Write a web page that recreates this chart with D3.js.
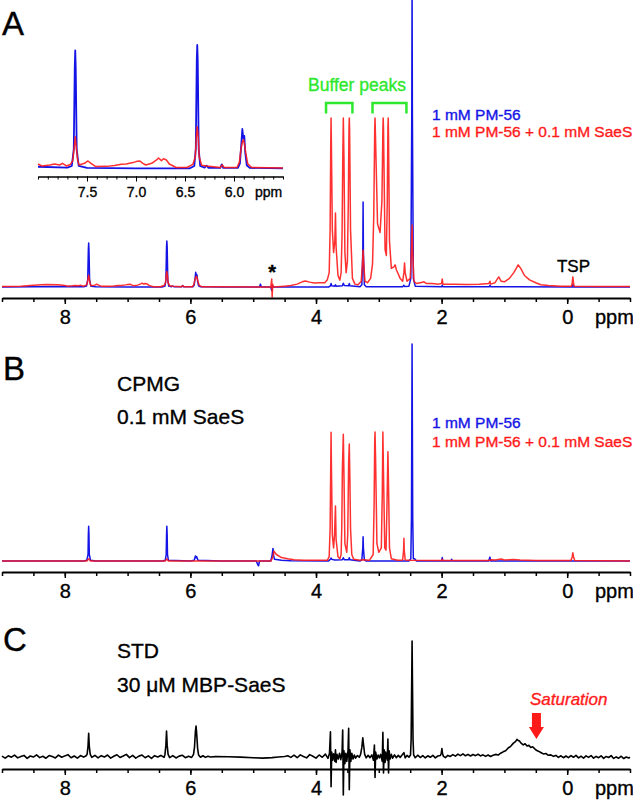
<!DOCTYPE html>
<html><head><meta charset="utf-8">
<script src="https://cdn.jsdelivr.net/npm/d3@7"></script>
<style>
html,body{margin:0;padding:0;background:#fff;}
svg{display:block;font-family:"Liberation Sans",Arial,Helvetica,sans-serif;}
text{paint-order:stroke;stroke-width:0.35px;}
</style></head><body>
<svg id="chart" width="633" height="802"></svg>
<script>
// ---------------- DATA (ppm, intensity) ----------------
const mainTicks = [9,8.5,8,7.5,7,6.5,6,5.5,5,4.5,4,3.5,3,2.5,2,1.5,1,0.5,0,-0.5,-1];
const mainTickLabels = [8,6,4,2,0];
const insetTicks = [8.0,7.9,7.8,7.7,7.6,7.5,7.4,7.3,7.2,7.1,7.0,6.9,6.8,6.7,6.6,6.5,6.4,6.3,6.2,6.1,6.0,5.9,5.8,5.7,5.6,5.5];
const insetTickLabels = [7.5,7.0,6.5,6.0];
const bufferBrackets = [[3.84,3.42],[3.10,2.56]];
const saturationPpm = 0.49;

// Panel A, 1 mM PM-56 (blue)
const specA_blue = [[9.0,0],[8.5,0.1],[8.0,0.2],[7.70,0.1],[7.655,0.3],[7.635,2.5],[7.625,13],[7.62,15.3],[7.615,13],[7.605,2.5],[7.585,0.3],[7.5,0.05],[7.0,0],[6.45,0],[6.405,0.3],[6.39,2.5],[6.38,14],[6.375,16],[6.37,14],[6.36,2.5],[6.345,0.3],[6.30,0.1],[6.28,0.35],[6.26,0.05],[6.14,0.05],[6.125,0.5],[6.11,0.05],[5.96,0.05],[5.94,0.6],[5.925,3.2],[5.915,5.1],[5.905,3.9],[5.895,4.2],[5.885,2.0],[5.87,0.4],[5.84,0.05],[5.5,0],[4.90,0],[4.885,1.0],[4.87,0],[4.72,0],[4.705,-1.2],[4.695,0.6],[4.68,0],[4.4,0],[3.80,0],[3.77,0.4],[3.76,1.2],[3.75,0.4],[3.70,0.3],[3.69,0.8],[3.68,0.3],[3.58,0.4],[3.565,1.3],[3.55,0.5],[3.48,0.4],[3.47,1.2],[3.46,0.4],[3.30,0.1],[3.27,0.8],[3.255,12],[3.25,29.6],[3.245,12],[3.23,0.8],[3.20,0.1],[2.62,0.1],[2.60,0.6],[2.59,0.2],[2.52,0.3],[2.49,3],[2.475,60],[2.47,105],[2.465,60],[2.45,3],[2.42,0.3],[2.0,0.1],[1.99,0.6],[1.98,0.1],[1.24,0.1],[1.23,0.6],[1.22,0.1],[0.8,0.05],[-0.08,0],[-0.09,0.8],[-0.10,0],[-1,0]];

// Panel A, 1 mM PM-56 + 0.1 mM SaeS (red)
const specA_red = [[9.0,0.2],[8.7,0.3],[8.5,0.6],[8.3,0.9],[8.1,0.8],[8.0,0.56],[7.96,0.3],[7.88,0.43],[7.83,0.56],[7.78,0.43],[7.75,0.65],[7.71,0.3],[7.67,0.5],[7.645,1.0],[7.63,2.8],[7.62,4.1],[7.61,2.8],[7.595,1.0],[7.58,0.43],[7.525,0.65],[7.49,0.95],[7.46,0.65],[7.41,0.22],[7.30,0.25],[7.22,0.35],[7.15,0.52],[7.10,0.56],[7.03,0.74],[7.00,0.87],[6.96,0.95],[6.93,0.65],[6.90,0.43],[6.84,0.65],[6.79,1.08],[6.77,1.34],[6.74,0.99],[6.72,1.25],[6.69,1.08],[6.66,0.56],[6.59,0.1],[6.48,0.1],[6.42,0.5],[6.395,1.5],[6.385,4.0],[6.375,5.4],[6.365,4.0],[6.355,1.5],[6.33,0.4],[6.28,0.3],[6.14,0.1],[6.12,0.45],[6.10,0.1],[5.97,0.1],[5.945,0.8],[5.93,2.4],[5.915,3.4],[5.905,3.7],[5.895,3.3],[5.88,2.0],[5.86,0.6],[5.82,0.1],[5.5,0.05],[4.90,0],[4.72,0],[4.712,1.5],[4.705,2.8],[4.698,-3.5],[4.69,1.0],[4.68,0],[4.5,0.3],[4.40,0.5],[4.30,1.0],[4.22,1.8],[4.17,2.1],[4.10,1.7],[4.03,1.4],[3.95,1.5],[3.86,1.5],[3.82,2.5],[3.79,5],[3.775,20],[3.765,50],[3.76,58.9],[3.755,50],[3.74,20],[3.72,12],[3.70,16],[3.69,25.8],[3.68,14],[3.65,4],[3.62,2.4],[3.60,5],[3.585,18],[3.575,42],[3.565,58.9],[3.555,45],[3.54,12],[3.52,5],[3.50,9],[3.485,30],[3.475,55],[3.47,58.9],[3.465,55],[3.45,20],[3.42,3],[3.38,1],[3.33,0.8],[3.28,2],[3.26,8],[3.25,12.9],[3.24,8],[3.22,2],[3.18,1.5],[3.13,3],[3.10,8],[3.08,25],[3.065,55],[3.06,58.9],[3.05,50],[3.02,22],[2.98,19],[2.95,30],[2.935,55],[2.93,58.9],[2.925,55],[2.90,13],[2.88,11],[2.865,30],[2.855,55],[2.85,58.9],[2.845,52],[2.83,16],[2.80,6.5],[2.76,7],[2.74,7.7],[2.72,6],[2.66,3],[2.62,2],[2.60,5],[2.59,8.4],[2.58,5],[2.55,2],[2.50,3],[2.48,12],[2.47,21.6],[2.46,12],[2.44,2],[2.40,1.2],[2.32,1.6],[2.28,1.8],[2.24,1.2],[2.15,1.2],[2.05,1.0],[2.00,1.2],[1.99,2.8],[1.98,1.0],[1.80,1.0],[1.60,0.9],[1.40,1.0],[1.25,1.2],[1.23,2.0],[1.22,1.0],[1.15,1.5],[1.09,3.5],[1.05,2.0],[1.00,1.8],[0.92,3],[0.85,5],[0.78,7.7],[0.74,6.5],[0.68,4],[0.60,2.5],[0.50,1.5],[0.42,0.8],[0.30,0.5],[0.1,0.3],[-0.07,0.3],[-0.08,1.5],[-0.09,3.5],[-0.10,1.5],[-0.11,0.3],[-0.5,0.2],[-1.0,0.2]];

// Panel B, CPMG (blue)
const specB_blue = [[9,0],[7.70,0],[7.65,0.3],[7.63,3],[7.625,12],[7.62,16],[7.615,12],[7.61,3],[7.59,0.3],[7.5,0],[6.45,0],[6.40,0.3],[6.385,3],[6.38,12],[6.375,16],[6.37,12],[6.365,3],[6.35,0.3],[6.0,0],[5.94,0.3],[5.92,2.3],[5.91,1.5],[5.90,2.0],[5.88,0.3],[5.5,0],[4.95,0],[4.93,-1.5],[4.915,-2.2],[4.90,0],[4.72,0],[4.70,2.5],[4.685,5.8],[4.675,2.5],[4.66,0.8],[4.55,0.3],[4.4,0.1],[3.80,0],[3.77,0.8],[3.76,1.4],[3.75,0.8],[3.70,0.5],[3.58,0.6],[3.565,1.5],[3.55,0.6],[3.48,0.6],[3.47,1.5],[3.46,0.6],[3.30,0],[3.27,0.5],[3.255,6],[3.25,11.2],[3.245,6],[3.23,0.5],[3.20,0],[2.52,0],[2.49,1],[2.48,20],[2.475,60],[2.47,100],[2.465,60],[2.46,20],[2.45,1.0],[2.43,1.0],[2.40,0],[2.0,0],[1.99,1.6],[1.98,0],[1.85,0],[1.84,0.8],[1.83,0],[1.25,0],[1.23,1.8],[1.22,0],[-1,0]];

// Panel B, CPMG (red)
const specB_red = [[9,0],[7.65,0],[7.62,1.0],[7.59,0],[6.40,0],[6.375,1.0],[6.35,0],[4.95,0],[4.72,0],[4.69,1.5],[4.67,4.5],[4.63,3],[4.55,1.6],[4.45,1.0],[4.35,0.6],[4.2,0.3],[3.82,0.3],[3.79,2],[3.775,15],[3.765,45],[3.76,59.3],[3.755,45],[3.74,12],[3.72,6],[3.705,12],[3.69,25.3],[3.68,10],[3.65,2],[3.62,1],[3.60,3],[3.59,15],[3.58,42],[3.565,58.4],[3.555,40],[3.54,8],[3.51,4],[3.495,12],[3.48,45],[3.47,53.9],[3.46,37],[3.45,15],[3.43,3],[3.40,0.8],[3.30,0.3],[3.25,0.6],[3.15,0.3],[3.09,3],[3.075,25],[3.065,55],[3.06,59.4],[3.05,45],[3.03,8],[3.0,4],[2.96,6],[2.945,30],[2.935,59.4],[2.925,40],[2.905,6],[2.885,5],[2.87,25],[2.855,50.4],[2.845,35],[2.83,6],[2.80,1],[2.70,0.3],[2.62,0.5],[2.605,5],[2.60,10.5],[2.595,5],[2.58,0.5],[2.50,0.3],[2.0,0.2],[1.99,0.8],[1.98,0.2],[1.25,0.2],[1.20,0.6],[1.15,0.5],[1.05,0.9],[1.00,0.5],[0.85,0.7],[0.75,0.5],[0.5,0.2],[-0.06,0.2],[-0.08,2],[-0.09,3.8],[-0.10,2],[-0.12,0.2],[-1,0]];

// Panel C, STD (black)
const specC = [[9.00,0.5],[8.95,-1.2],[8.90,0.8],[8.85,-0.4],[8.80,1.4],[8.75,-1.0],[8.70,0.2],[8.65,1.1],[8.60,-1.5],[8.55,0.6],[8.50,-0.3],[8.45,1.6],[8.40,-0.8],[8.35,0.4],[8.30,-1.3],[8.25,1.0],[8.20,0.1],[8.15,-1.1],[8.10,1.3],[8.05,-0.5],[8.00,0.7],[7.95,1.8],[7.90,-0.9],[7.85,0.6],[7.80,-1.2],[7.75,1.0],[7.70,-0.4],[7.66,0.8],
[7.645,2],[7.63,9],[7.62,20.2],[7.61,9],[7.595,2],
[7.57,-0.6],[7.52,1.2],[7.47,-1.0],[7.42,0.9],[7.37,-0.3],[7.32,1.5],[7.27,-1.2],[7.22,0.4],[7.17,1.7],[7.12,-0.7],[7.07,0.6],[7.02,2.0],[6.97,-0.8],[6.92,1.1],[6.87,-1.3],[6.82,0.5],[6.77,1.4],[6.72,-0.9],[6.67,0.7],[6.62,-1.4],[6.57,0.9],[6.52,-0.2],[6.47,1.1],[6.42,-0.6],
[6.405,2],[6.39,10],[6.38,22.2],[6.37,10],[6.355,2],
[6.33,-0.8],[6.28,1.0],[6.23,-1.1],[6.18,0.5],[6.13,1.3],[6.08,-0.9],[6.03,0.4],[5.98,-0.6],
[5.95,2],[5.935,8],[5.92,22],[5.91,26.5],[5.90,20],[5.885,7],[5.87,1.5],
[5.84,-0.5],[5.80,0.8],[5.76,-0.6],[5.72,0.4],[5.68,-0.3],[5.60,0.1],[5.40,0],[5.20,-0.4],[5.00,-0.9],[4.85,-1.2],[4.70,-0.8],[4.60,-0.3],[4.50,0.2],[4.45,0.8],
[4.40,-0.6],[4.35,1.3],[4.30,-0.9],[4.25,1.6],[4.20,0.2],[4.15,-1.0],[4.10,1.8],[4.05,0.4],[4.00,-1.2],[3.95,1.5],[3.90,-0.5],[3.85,2.2],[3.81,-1.5],
[3.785,3],[3.77,21.6],[3.76,-26],[3.75,4],[3.735,-3],[3.72,2.5],[3.70,-4],[3.69,6],[3.68,-5],[3.665,2],[3.645,-2],[3.625,3],[3.605,-2.5],
[3.585,4],[3.575,23],[3.565,-33],[3.555,5],[3.54,-6],[3.525,3],[3.51,-4],
[3.49,5],[3.48,24.5],[3.47,-28.5],[3.46,6],[3.445,-4],[3.43,3],[3.41,-2],[3.39,1.5],[3.37,-1.2],[3.34,1.0],[3.31,-0.5],
[3.29,2],[3.27,8],[3.255,16.4],[3.24,9],[3.225,2],[3.20,-1.0],[3.17,1.2],[3.14,-0.8],[3.11,1.5],
[3.085,-3],[3.07,10],[3.06,-18],[3.05,4],[3.03,-2],[3.01,1.5],[2.99,-1],[2.97,2],
[2.945,-4],[2.935,21],[2.925,-14],[2.915,6],[2.90,-5],[2.89,4],
[2.865,-3],[2.855,15.3],[2.845,-14],[2.835,5],[2.82,-2],[2.80,2],[2.78,-1.3],[2.75,1.6],[2.72,-0.9],[2.69,1.2],[2.66,-0.6],[2.63,1.4],[2.60,3.5],[2.58,-1.0],[2.55,1.1],[2.52,-0.4],
[2.495,1.5],[2.485,15],[2.475,70],[2.47,100],[2.465,70],[2.455,15],[2.445,1.5],
[2.42,-0.9],[2.38,1.3],[2.34,-0.7],[2.30,1.0],[2.26,-1.1],[2.22,0.8],[2.18,-0.5],[2.14,1.2],[2.10,-1.0],[2.06,0.6],[2.02,1.0],[2.005,3],[1.995,7],[1.985,2.5],[1.97,0.3],[1.94,-0.8],[1.90,1.1],[1.86,0.2],[1.82,1.8],[1.78,0.5],[1.74,2.2],[1.70,0.9],[1.66,2.4],[1.62,0.8],[1.58,2.0],[1.54,0.6],[1.50,1.9],[1.46,0.9],[1.42,2.1],[1.38,0.7],[1.34,1.6],[1.30,0.3],[1.26,1.5],[1.22,0.2],[1.18,1.2],[1.14,2.0],[1.10,1.4],[1.06,3.0],[1.02,4.2],[0.98,5.2],[0.94,7.5],[0.90,9.0],[0.86,11.5],[0.82,13.2],[0.80,15.0],[0.78,14.0],[0.76,13.5],[0.73,11.5],[0.70,10.2],[0.67,11.2],[0.64,9.3],[0.61,9.8],[0.58,8.0],[0.55,8.6],[0.52,7.0],[0.49,5.5],[0.46,4.8],[0.42,3.6],[0.38,2.4],[0.34,2.8],[0.30,1.2],[0.26,1.6],[0.22,0.3],[0.18,1.1],[0.14,-0.6],[0.10,0.8],[0.06,-0.9],[0.02,0.6],[-0.02,-0.8],[-0.06,0.9],[-0.10,-0.5],[-0.14,1.1],[-0.18,-1.0],[-0.22,0.4],[-0.26,-1.3],[-0.30,0.7],[-0.34,-0.6],[-0.38,1.0],[-0.42,-1.2],[-0.46,0.3],[-0.50,-0.9],[-0.54,0.8],[-0.58,-1.4],[-0.62,0.2],[-0.66,-0.7],[-0.70,0.9],[-0.74,-1.5],[-0.78,-0.2],[-0.82,-1.3],[-0.86,0.4],[-0.90,-1.6],[-0.94,-0.3],[-0.98,-1.1],[-1.00,-0.5]];

const legendLabels = ["1 mM PM-56", "1 mM PM-56 + 0.1 mM SaeS"];

// ---------------- DRAWING ----------------
const BLUE = "#1414e6", RED = "#ff1a1a", GREEN = "#2ee82e";
const svg = d3.select("#chart");
const x = d3.scaleLinear().domain([9, -1]).range([2, 630]);

const panels = [
  {axisY: 298, y: d3.scaleLinear().domain([0,100]).range([287, 0])},
  {axisY: 572, y: d3.scaleLinear().domain([0,100]).range([561, 344])},
  {axisY: 769, y: d3.scaleLinear().domain([0,100]).range([756.7, 641])}
];

function drawLine(data, xs, ys, color, w, op) {
  svg.append("path").datum(data)
    .attr("fill", "none").attr("stroke", color).attr("stroke-width", w)
    .attr("stroke-opacity", op || 1).attr("stroke-linejoin", "round")
    .attr("d", d3.line().x(d => xs(d[0])).y(d => ys(d[1])));
}

function txt(px, py, size, color, s) {
  return svg.append("text").attr("x", px).attr("y", py).attr("font-size", size)
    .attr("fill", color).attr("stroke", color).text(s);
}

function drawMainAxis(axisY) {
  const gMinor = svg.append("g").attr("transform", `translate(0,${axisY})`)
    .call(d3.axisBottom(x).tickValues(mainTicks).tickSize(4).tickSizeOuter(0).tickFormat(""));
  gMinor.select(".domain").attr("stroke-width", 2);
  gMinor.selectAll(".tick line").attr("stroke-width", 1.5);
  const gMajor = svg.append("g").attr("transform", `translate(0,${axisY})`)
    .call(d3.axisBottom(x).tickValues(mainTickLabels).tickSize(6).tickSizeOuter(0).tickFormat(d3.format("d")));
  gMajor.select(".domain").remove();
  gMajor.selectAll(".tick line").attr("stroke-width", 1.5);
  gMajor.selectAll(".tick text").attr("y", 26).attr("dy", 0)
    .attr("font-size", 20).attr("font-family", "Liberation Sans, Arial, sans-serif")
    .attr("fill", "#000").attr("stroke", "#000");
  txt(595, axisY + 26, 20, "#000", "ppm");
}

// Panel A
drawLine(specA_blue, x, panels[0].y, BLUE, 1.5);
drawLine(specA_red, x, panels[0].y, RED, 1.5, 0.9);
drawMainAxis(panels[0].axisY);
// Panel B
drawLine(specB_blue, x, panels[1].y, BLUE, 1.5);
drawLine(specB_red, x, panels[1].y, RED, 1.5, 0.9);
drawMainAxis(panels[1].axisY);
// Panel C
drawLine(specC, x, panels[2].y, "#000", 1.6);
drawMainAxis(panels[2].axisY);

// Inset (panel A)
const xi = d3.scaleLinear().domain([8.0, 5.5]).range([38, 283]);
const yi = d3.scaleLinear().domain([0, 16]).range([168.3, 45]);
const inRange = d => d[0] <= 8.0 && d[0] >= 5.5;
drawLine(specA_blue.filter(inRange), xi, yi, BLUE, 1.8);
drawLine(specA_red.filter(inRange), xi, yi, RED, 1.5, 0.9);
const gi = svg.append("g").attr("transform", "translate(0,176.5)")
  .call(d3.axisBottom(xi).tickValues(insetTicks).tickSize(3).tickSizeOuter(0).tickFormat(""));
gi.select(".domain").attr("stroke-width", 1.3);
const gi2 = svg.append("g").attr("transform", "translate(0,176.5)")
  .call(d3.axisBottom(xi).tickValues(insetTickLabels).tickSize(5).tickSizeOuter(0).tickFormat(d3.format(".1f")));
gi2.select(".domain").remove();
gi2.selectAll(".tick text").attr("y", 20.5).attr("dy", 0).attr("font-size", 14)
  .attr("font-family", "Liberation Sans, Arial, sans-serif").attr("fill", "#000").attr("stroke", "#000");
txt(255, 197, 14, "#000", "ppm");

// Panel letters
[["A", 2, 35], ["B", 3, 380], ["C", 3, 651]].forEach(([t, px, py]) => txt(px, py, 33, "#000", t));

// Legends
function legend(y1, y2) {
  txt(432, y1, 15.5, BLUE, legendLabels[0]);
  txt(432, y2, 15.5, RED, legendLabels[1]);
}
legend(119.5, 136.5);
legend(428, 447);

// Buffer peaks
txt(308, 91, 17.5, GREEN, "Buffer peaks");
bufferBrackets.forEach(([a, b]) => {
  svg.append("path").attr("fill", "none").attr("stroke", GREEN).attr("stroke-width", 2.5)
    .attr("d", `M${x(a)},113.5V103H${x(b)}V113.5`);
});

// TSP and asterisk
txt(x(-0.1), 272, 17, "#000", "TSP").attr("text-anchor", "middle");
txt(x(4.70), 279, 20, "#000", "*").attr("font-weight", "bold").attr("text-anchor", "middle");

// Panel B/C annotations
txt(117, 391, 21, "#000", "CPMG");
txt(117, 424, 21, "#000", "0.1 mM SaeS");
txt(117, 658, 21, "#000", "STD");
txt(117, 692, 21, "#000", "30 \u03BCM MBP-SaeS");
txt(530, 705, 17, RED, "Saturation").attr("font-style", "italic");
const ax = x(saturationPpm);
svg.append("path").attr("fill", RED)
  .attr("d", `M${ax-4.5},713H${ax+4.5}V727H${ax+7.5}L${ax},739L${ax-7.5},727H${ax-4.5}Z`);
</script>
</body></html>
